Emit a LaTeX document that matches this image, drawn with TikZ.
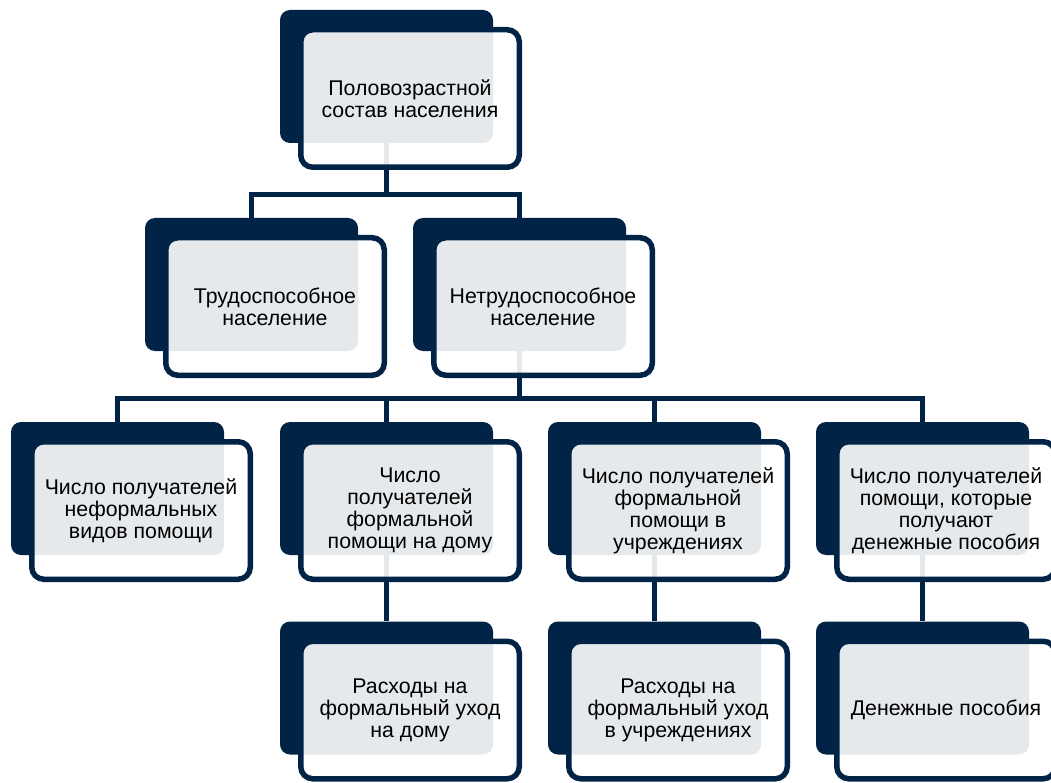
\documentclass[tikz,border=0pt]{standalone}
\usepackage{fontspec}
\setmainfont{Liberation Sans}
\usetikzlibrary{backgrounds}

\definecolor{navy}{RGB}{0,35,70}

\tikzset{
  back/.style={fill=navy, rounded corners=10pt, inner sep=0pt,
    minimum width=213pt, minimum height=133pt},
  front/.style={draw=navy, line width=5.5pt, fill=white, fill opacity=0.9,
    text opacity=1, rounded corners=12pt, inner sep=0pt,
    minimum width=218.5pt, minimum height=137.5pt, align=center,
    font=\fontsize{21.3}{22}\selectfont},
  link/.style={draw=navy, line width=5.5pt}
}

\begin{document}
\begin{tikzpicture}[x=1pt, y=-1pt]
    \useasboundingbox (0,0) rectangle (1051,783);

    % level 1
    \node[back] (rootB) at (386.5,76.5) {};
    \node[front] (root) at ([shift={(23.5,22)}]rootB) {Половозрастной\\состав населения};

    % level 2
    \node[back] (ableB) at (251.5,284.5) {};
    \node[front] (able) at ([shift={(23.5,22)}]ableB) {Трудоспособное\\население};
    \node[back] (unableB) at (519.5,284.5) {};
    \node[front] (unable) at ([shift={(23.5,22)}]unableB) {Нетрудоспособное\\население};

    % level 3
    \node[back] (informalB) at (117.5,488.5) {};
    \node[front] (informal) at ([shift={(23.5,22)}]informalB) {Число получателей\\неформальных\\видов помощи};
    \node[back] (homeB) at (386.5,488.5) {};
    \node[front] (home) at ([shift={(23.5,22)}]homeB) {Число\\получателей\\формальной\\помощи на дому};
    \node[back] (instB) at (654.5,488.5) {};
    \node[front] (inst) at ([shift={(23.5,22)}]instB) {Число получателей\\формальной\\помощи в\\учреждениях};
    \node[back] (cashB) at (922.5,488.5) {};
    \node[front] (cash) at ([shift={(23.5,22)}]cashB) {Число получателей\\помощи, которые\\получают\\денежные пособия};

    % level 4
    \node[back] (homeCostB) at (386.5,688) {};
    \node[front] (homeCost) at ([shift={(23.5,22)}]homeCostB) {Расходы на\\формальный уход\\на дому};
    \node[back] (instCostB) at (654.5,688) {};
    \node[front] (instCost) at ([shift={(23.5,22)}]instCostB) {Расходы на\\формальный уход\\в учреждениях};
    \node[back] (cashSumB) at (922.5,688) {};
    \node[front] (cashSum) at ([shift={(23.5,22)}]cashSumB) {Денежные пособия};

    % connectors
    \coordinate (bus1) at (0,194.5);
    \coordinate (bus2) at (0,398.5);
    \begin{pgfonlayer}{background}
        \draw[link] (rootB.south) -- (rootB.south |- bus1);
        \draw[link] (ableB.north) |- (unableB.north |- bus1) -- (unableB.north);
        \draw[link] (unableB.south) -- (unableB.south |- bus2);
        \draw[link] (informalB.north) |- (cashB.north |- bus2) -- (cashB.north);
        \foreach \n in {homeB, instB}
            \draw[link] (\n.north) -- (\n.north |- bus2);
        \draw[link] (homeB.south) -- (homeCostB.north);
        \draw[link] (instB.south) -- (instCostB.north);
        \draw[link] (cashB.south) -- (cashSumB.north);
    \end{pgfonlayer}
\end{tikzpicture}
\end{document}
